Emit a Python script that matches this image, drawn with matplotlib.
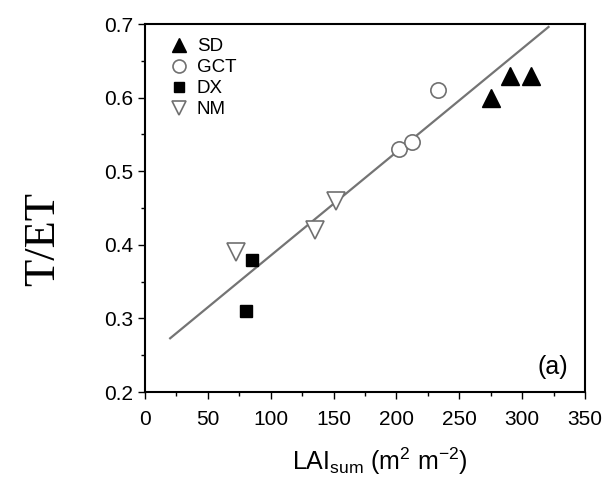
import matplotlib
matplotlib.use('Agg')
import matplotlib.pyplot as plt
from matplotlib.ticker import MultipleLocator

# LAI_sum (m2 m-2) vs T/ET for each site
sd_x = [275, 290, 307]
sd_y = [0.60, 0.63, 0.63]
gct_x = [202, 212, 233]
gct_y = [0.53, 0.54, 0.61]
dx_x = [80, 85]
dx_y = [0.31, 0.38]
nm_x = [72, 135, 152]
nm_y = [0.39, 0.42, 0.46]

# regression line end points
fit_x = [20, 321]
fit_y = [0.273, 0.696]

plt.rcParams['font.family'] = ['Liberation Sans', 'DejaVu Sans']
plt.rcParams['mathtext.fontset'] = 'custom'
plt.rcParams['mathtext.rm'] = 'Liberation Sans'

fig = plt.figure(figsize=(6.15, 4.83), dpi=100)
ax = fig.add_axes([0.2358, 0.1884, 0.7154, 0.7619])

ax.plot(fit_x, fit_y, color='#747474', lw=1.6, zorder=1)

ax.plot(sd_x, sd_y, ls='none', marker='^', ms=12.5, color='black', label='SD')
ax.plot(gct_x, gct_y, ls='none', marker='o', ms=11, mfc='white',
        mec='#707070', mew=1.2, label='GCT')
ax.plot(dx_x, dx_y, ls='none', marker='s', ms=9, color='black', label='DX')
ax.plot(nm_x, nm_y, ls='none', marker='v', ms=12.5, mfc='white',
        mec='#707070', mew=1.2, label='NM')

ax.set_xlim(0, 350)
ax.set_ylim(0.2, 0.7)
ax.xaxis.set_major_locator(MultipleLocator(50))
ax.xaxis.set_minor_locator(MultipleLocator(25))
ax.yaxis.set_major_locator(MultipleLocator(0.1))
ax.yaxis.set_minor_locator(MultipleLocator(0.05))
ax.tick_params(which='both', direction='out', top=False, right=False,
               labelsize=15, colors='black')
ax.tick_params(axis='x', which='major', pad=8)
ax.tick_params(which='major', length=5, width=1)
ax.tick_params(which='minor', length=3, width=1)
for s in ax.spines.values():
    s.set_linewidth(1.5)

ax.set_xlabel(r'LAI$_{\mathrm{sum}}$ (m$^{\mathrm{2}}$ m$^{\mathrm{-2}}$)',
              fontsize=18)
ax.xaxis.set_label_coords(0.535, -0.145)
ax.set_ylabel('T/ET', fontsize=32, family='Liberation Serif')
ax.yaxis.set_label_coords(-0.186, 0.416)

ax.text(0.961, 0.069, '(a)', transform=ax.transAxes, ha='right', va='center',
        fontsize=18)

ax.legend(loc='upper left', frameon=False, fontsize=13.5, handlelength=1.0,
          handletextpad=0.45, labelspacing=0.2, markerscale=0.85,
          borderaxespad=0.0, borderpad=0.0, bbox_to_anchor=(0.056, 0.961))

fig.savefig('out.png', dpi=100)
